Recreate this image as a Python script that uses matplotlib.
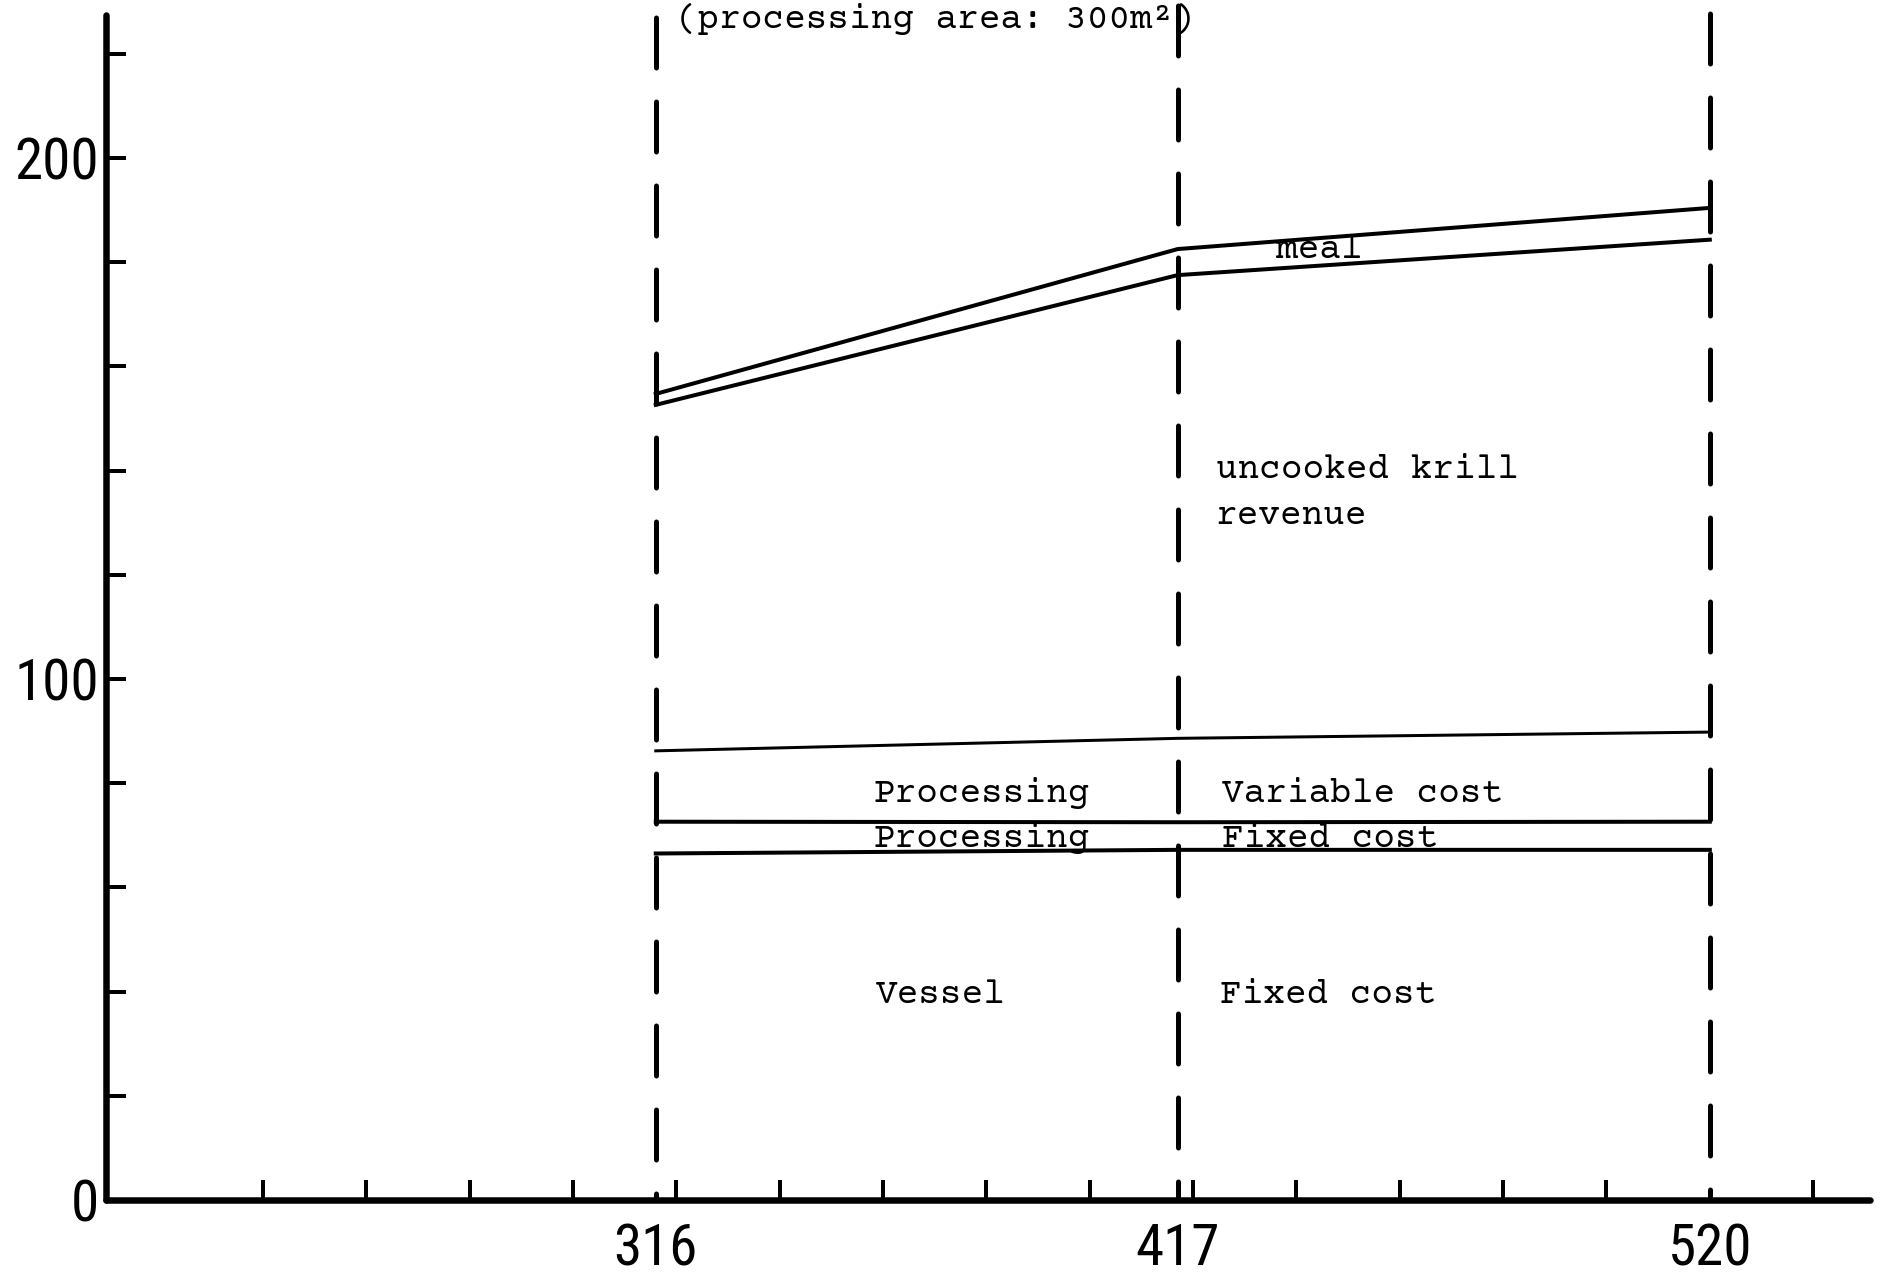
import matplotlib
matplotlib.use("Agg")
import matplotlib.pyplot as plt
from matplotlib.ticker import FixedLocator, FixedFormatter, NullFormatter

plt.rcParams["lines.scale_dashes"] = False

# Catch levels (x) for the three vessel options
catch_levels = [316, 417, 520]

# Stacked cost boundaries
vessel_fixed_cost = [66.5, 67.2, 67.2]
processing_fixed_cost = [72.6, 72.5, 72.6]
processing_variable_cost = [86.2, 88.6, 89.8]

# Revenue boundaries
uncooked_krill_revenue = [152.6, 177.5, 184.3]
meal_revenue = [154.7, 182.5, 190.4]

# Axis ticks
y_major_ticks = [0, 100, 200]
y_major_labels = ["0", "100", "200"]
y_minor_ticks = [20, 40, 60, 80, 120, 140, 160, 180, 220]
x_minor_ticks = list(range(240, 541, 20))
x_labels = ["316", "417", "520"]

PX = 0.72  # points per pixel at 100 dpi

fig = plt.figure(figsize=(18.94, 12.76), dpi=100)
ax = fig.add_axes([106 / 1894, 1 - 1200 / 1276, (1870 - 106) / 1894, 1200 / 1276])
ax.set_xlim(209.6, 551.0)
ax.set_ylim(0, 230.3)

for s in ("top", "right"):
    ax.spines[s].set_visible(False)
for s in ("left", "bottom"):
    ax.spines[s].set_linewidth(6.5 * PX)
    ax.spines[s].set_capstyle("round")
ax.spines["left"].set_bounds(0, 227.4)

num_family = ["Roboto Condensed", "Liberation Sans"]
num_size = 41
mono = dict(family=["Courier Prime", "Liberation Mono"], size=25.9, color="black")

# y axis: labelled ticks at 0/100/200, unlabelled every 20
ax.yaxis.set_major_locator(FixedLocator(y_major_ticks))
ax.yaxis.set_major_formatter(FixedFormatter(y_major_labels))
ax.yaxis.set_minor_locator(FixedLocator(y_minor_ticks))
ax.yaxis.set_minor_formatter(NullFormatter())
ax.tick_params(axis="y", which="both", direction="in", length=20 * PX,
               width=4 * PX, pad=5)
for lab in ax.get_yticklabels():
    lab.set_fontfamily(num_family)
    lab.set_fontsize(num_size)

# x axis: labels at the catch levels, ticks every 20
ax.xaxis.set_major_locator(FixedLocator(catch_levels))
ax.xaxis.set_major_formatter(FixedFormatter(x_labels))
ax.xaxis.set_minor_locator(FixedLocator(x_minor_ticks))
ax.xaxis.set_minor_formatter(NullFormatter())
ax.tick_params(axis="x", which="major", direction="in", length=0, pad=16)
ax.tick_params(axis="x", which="minor", direction="in", length=20 * PX,
               width=4 * PX)
for lab in ax.get_xticklabels():
    lab.set_fontfamily(num_family)
    lab.set_fontsize(num_size)

# Dashed verticals at each catch level, running from the top edge to zero
dash_offsets = [66.5 * PX, 78.5 * PX, 70.5 * PX]
top = ax.get_ylim()[1]
for x, off in zip(catch_levels, dash_offsets):
    ax.plot([x, x], [top, 0], color="black", lw=5 * PX,
            linestyle=(off, (50 * PX, 34 * PX)), dash_capstyle="round",
            clip_on=False, zorder=3)

# Cost and revenue boundaries
line_kw = dict(color="black", solid_joinstyle="miter", zorder=4)
ax.plot(catch_levels, vessel_fixed_cost, lw=4 * PX, **line_kw)
ax.plot(catch_levels, processing_fixed_cost, lw=4 * PX, **line_kw)
ax.plot(catch_levels, processing_variable_cost, lw=3 * PX, **line_kw)
ax.plot(catch_levels, uncooked_krill_revenue, lw=4 * PX, **line_kw)
ax.plot(catch_levels, meal_revenue, lw=4 * PX, **line_kw)

# Annotations
ax.text(319.9, 225.0, "(processing area: 300m²)", clip_on=False, **mono)
ax.text(436.0, 180.8, "meal", zorder=2, **mono)
ax.text(424.4, 138.6, "uncooked krill", **mono)
ax.text(424.4, 129.7, "revenue", **mono)
ax.text(358.2, 76.4, "Processing", **mono)
ax.text(425.6, 76.4, "Variable cost", **mono)
ax.text(358.2, 67.8, "Processing", **mono)
ax.text(425.6, 67.8, "Fixed cost", **mono)
ax.text(358.6, 37.8, "Vessel", **mono)
ax.text(425.2, 37.8, "Fixed cost", **mono)

fig.savefig("out.png", dpi=100)
